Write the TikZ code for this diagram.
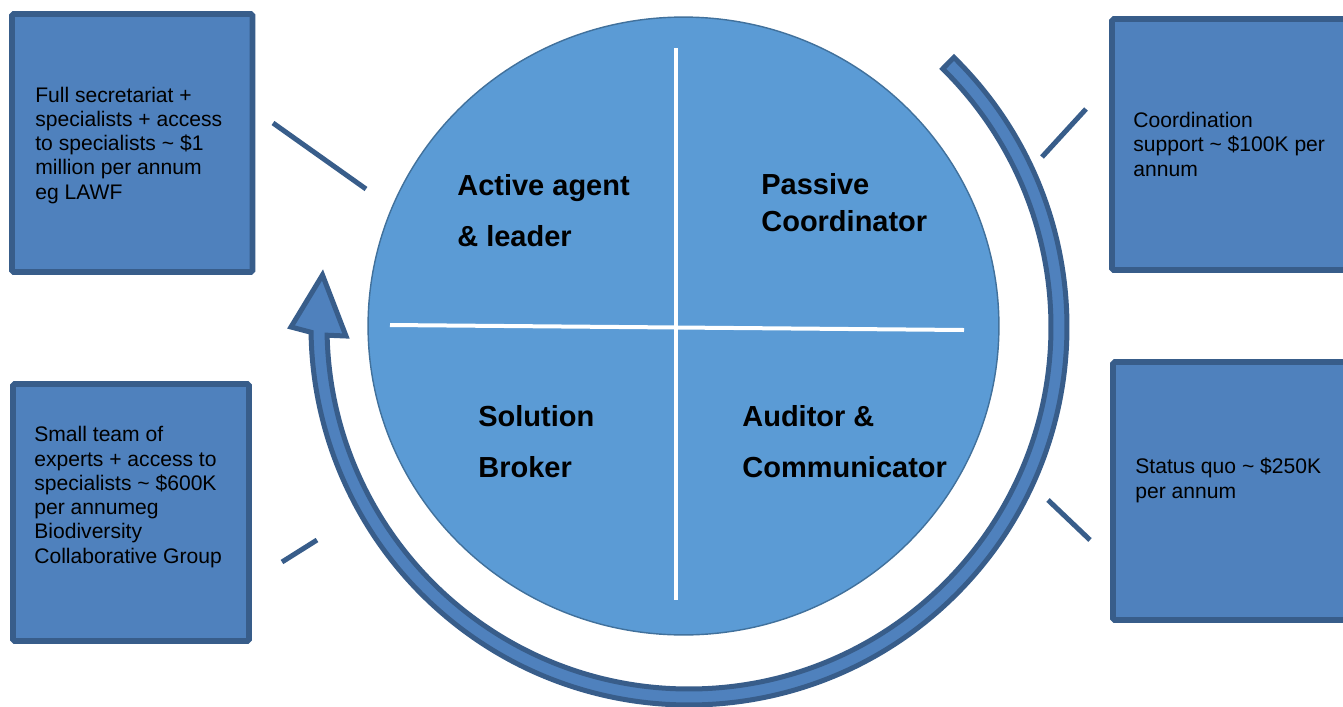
\documentclass[tikz,border=0pt]{standalone}
\usepackage{fontspec}
\setmainfont{Liberation Sans}
\usepackage{tikz}
\usetikzlibrary{shapes.geometric, calc}

\definecolor{boxblue}{HTML}{4F81BD}
\definecolor{boxedge}{HTML}{385D8A}
\definecolor{discblue}{HTML}{5B9BD5}
\definecolor{discedge}{HTML}{41719C}

\tikzset{
  costbox/.style={
    draw=boxedge, fill=boxblue, line width=0.115cm, rounded corners=1pt,
    inner sep=0pt
  },
  costtext/.style={
    anchor=base west, align=left, inner sep=0pt,
    font=\fontsize{12}{13.8}\selectfont
  },
  rolelabel/.style={
    anchor=base west, align=left, inner sep=0pt,
    font=\bfseries\fontsize{16.5}{29}\selectfont
  },
  roledisc/.style={
    ellipse, draw=discedge, fill=discblue, line width=0.8pt, inner sep=0pt,
    minimum width=12.62cm, minimum height=12.36cm
  },
  crossline/.style={white, line width=0.08cm},
  tickline/.style={boxedge, line width=0.1cm},
  cyclearrow/.style={draw=boxedge, fill=boxblue, line width=0.1cm},
}

\begin{document}
\begin{tikzpicture}[x=0.02cm, y=-0.02cm]
  \useasboundingbox (0,0) rectangle (1343,707);
  \clip (0,0) rectangle (1343,707);
  \fill[white] (0,0) rectangle (1343,707);

  % === Cycle arrow ===
  \coordinate (hub) at (689,327);
  \draw[cyclearrow] (hub) ++(-45.5:378)
    arc[start angle=-45.5, end angle=179.2, radius=378]
    -- (291,327) -- (322.5,275) -- (346,336)
    -- ($(hub)+(178.7:362)$)
    arc[start angle=178.7, end angle=-45.5, radius=362] -- cycle;

  % === Central disc ===
  \node[roledisc] (disc) at (683.5,326) {};
  \draw[crossline] (676,48) -- (676,600);
  \draw[crossline] (390,325) -- (964,330);

  % (anchored on the baseline of the last line)
  \node[rolelabel] (active) at (457,246) {Active agent\\\& leader};
  \node[rolelabel, font=\bfseries\fontsize{16.5}{20.5}\selectfont] (passive) at (761,231)
    {Passive\\Coordinator};
  \node[rolelabel] (broker) at (478,477) {Solution\\Broker};
  \node[rolelabel] (auditor) at (742,477) {Auditor \&\\Communicator};

  % === Cost boxes ===
  \node[costbox, minimum width=4.81cm, minimum height=5.16cm] (boxfull) at (132.25,143) {};
  \node[costtext] (txtfull) at (35,199)
    {Full secretariat +\\specialists + access\\to specialists \textasciitilde{} \$1\\million per annum\\eg LAWF};

  \node[costbox, minimum width=4.72cm, minimum height=5.14cm] (boxteam) at (131,512.5) {};
  \node[costtext] (txtteam) at (34,563)
    {Small team of\\experts + access to\\specialists \textasciitilde{} \$600K\\per annumeg\\Biodiversity\\Collaborative Group};

  \node[costbox, minimum width=5.2cm, minimum height=5.02cm] (boxcoord) at (1242,144.5) {};
  \node[costtext] (txtcoord) at (1133,176)
    {Coordination\\support \textasciitilde{} \$100K per\\annum};

  \node[costbox, minimum width=5.2cm, minimum height=5.16cm] (boxquo) at (1243,491) {};
  \node[costtext] (txtquo) at (1135,498)
    {Status quo \textasciitilde{} \$250K\\per annum};

  % === Ticks ===
  \coordinate (tickfullA) at (273,123);  \coordinate (tickfullB) at (366,189);
  \coordinate (tickteamA) at (282,562);  \coordinate (tickteamB) at (317,540);
  \coordinate (tickcoordA) at (1042,157); \coordinate (tickcoordB) at (1086,109);
  \coordinate (tickquoA) at (1048,500);  \coordinate (tickquoB) at (1090,540);
  \draw[tickline] (tickfullA) -- (tickfullB);
  \draw[tickline] (tickteamA) -- (tickteamB);
  \draw[tickline] (tickcoordA) -- (tickcoordB);
  \draw[tickline] (tickquoA) -- (tickquoB);

\end{tikzpicture}
\end{document}
